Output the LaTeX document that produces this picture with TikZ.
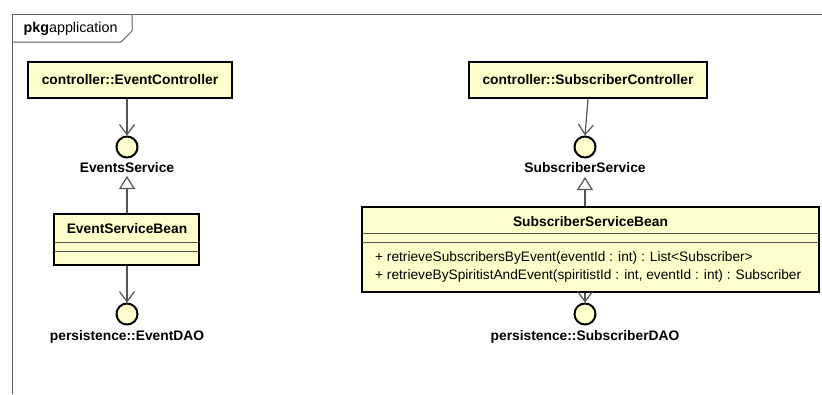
\documentclass[tikz,border=0pt]{standalone}
\usepackage{fontspec}
\setmainfont{Liberation Sans}
\usetikzlibrary{arrows.meta}
\definecolor{umlfill}{RGB}{255,255,204}
\definecolor{frameline}{RGB}{95,95,95}
\definecolor{conn}{RGB}{85,85,85}
\begin{document}
\begin{tikzpicture}[x=1pt,y=-1pt,
  box/.style={rectangle, draw=black, line width=2.4pt, fill=umlfill, inner sep=0pt,
              font=\fontsize{13.8}{16}\selectfont\bfseries},
  iface/.style={circle, draw=black, line width=2pt, fill=umlfill, minimum size=21pt, inner sep=0pt},
  lbl/.style={font=\fontsize{13.8}{16}\selectfont\bfseries, inner sep=0pt},
  ttl/.style={font=\fontsize{13.8}{16}\selectfont\bfseries, inner sep=0pt},
  meth/.style={font=\fontsize{13.7}{16}\selectfont, inner sep=0pt, anchor=west},
  divider/.style={draw=conn, line width=1pt},
  dep/.style={draw=conn, line width=1.2pt, -{Straight Barb[length=10pt,width=15pt,line width=1.2pt]}},
  real/.style={draw=conn, line width=1.2pt, -{Triangle[open,length=13pt,width=16pt,fill=white,line width=1.2pt]}}
]
\useasboundingbox (0,0) rectangle (822,394);
% package frame
\draw[frameline, line width=1pt] (12,394) -- (12,14) -- (822,14);
\draw[frameline, line width=1pt] (12,42) -- (121,42) -- (132,31) -- (132,14);
\node[anchor=west, inner sep=0pt, font=\fontsize{14.3}{16}\selectfont] (pkg) at (23.5,29) {\textbf{pkg}application};

% left column
\node[box, minimum width=204pt, minimum height=36pt] (ec) at (130,80) {controller::EventController};
\node[iface] (ei) at (127,147) {};
\node[lbl] (eil) at (127,168) {EventsService};
\coordinate (eg) at (127,176);
\node[box, minimum width=145pt, minimum height=51pt] (esb) at (126.5,239.5) {};
\node[ttl] (esbt) at (127,229) {EventServiceBean};
\draw[divider] (54,242) -- (199,242);
\draw[divider] (54,251) -- (199,251);
\node[iface] (ed) at (127,314) {};
\node[lbl] (edl) at (127,337) {persistence::EventDAO};

\draw[dep] (ei.north |- ec.south) -- (ei.north);
\draw[real] (ei.north |- esb.north) -- (eg);
\draw[dep] (ed.north |- esb.south) -- (ed.north);

% right column
\node[box, minimum width=238pt, minimum height=36pt] (sc) at (588,80) {controller::SubscriberController};
\node[iface] (si) at (585,147) {};
\node[lbl] (sil) at (585,168) {SubscriberService};
\coordinate (sg) at (585,177);
\node[box, minimum width=457pt, minimum height=85pt] (ssb) at (590.5,249.5) {};
\node[ttl] (ssbt) at (590.5,222) {SubscriberServiceBean};
\draw[divider] (362,233) -- (819,233);
\draw[divider] (362,242) -- (819,242);
\node[meth] (m1) at (375,258) {+ retrieveSubscribersByEvent(eventId : int) : List<Subscriber>};
\node[meth] (m2) at (375,276) {+ retrieveBySpiritistAndEvent(spiritistId : int, eventId : int) : Subscriber};
\node[iface] (sd) at (585,314) {};
\node[lbl] (sdl) at (585,337) {persistence::SubscriberDAO};

\draw[dep] (sc.south) -- (si.north);
\draw[real] (si.north |- ssb.north) -- (sg);
\draw[dep] (sd.north |- ssb.south) -- (sd.north);
\end{tikzpicture}
\end{document}
